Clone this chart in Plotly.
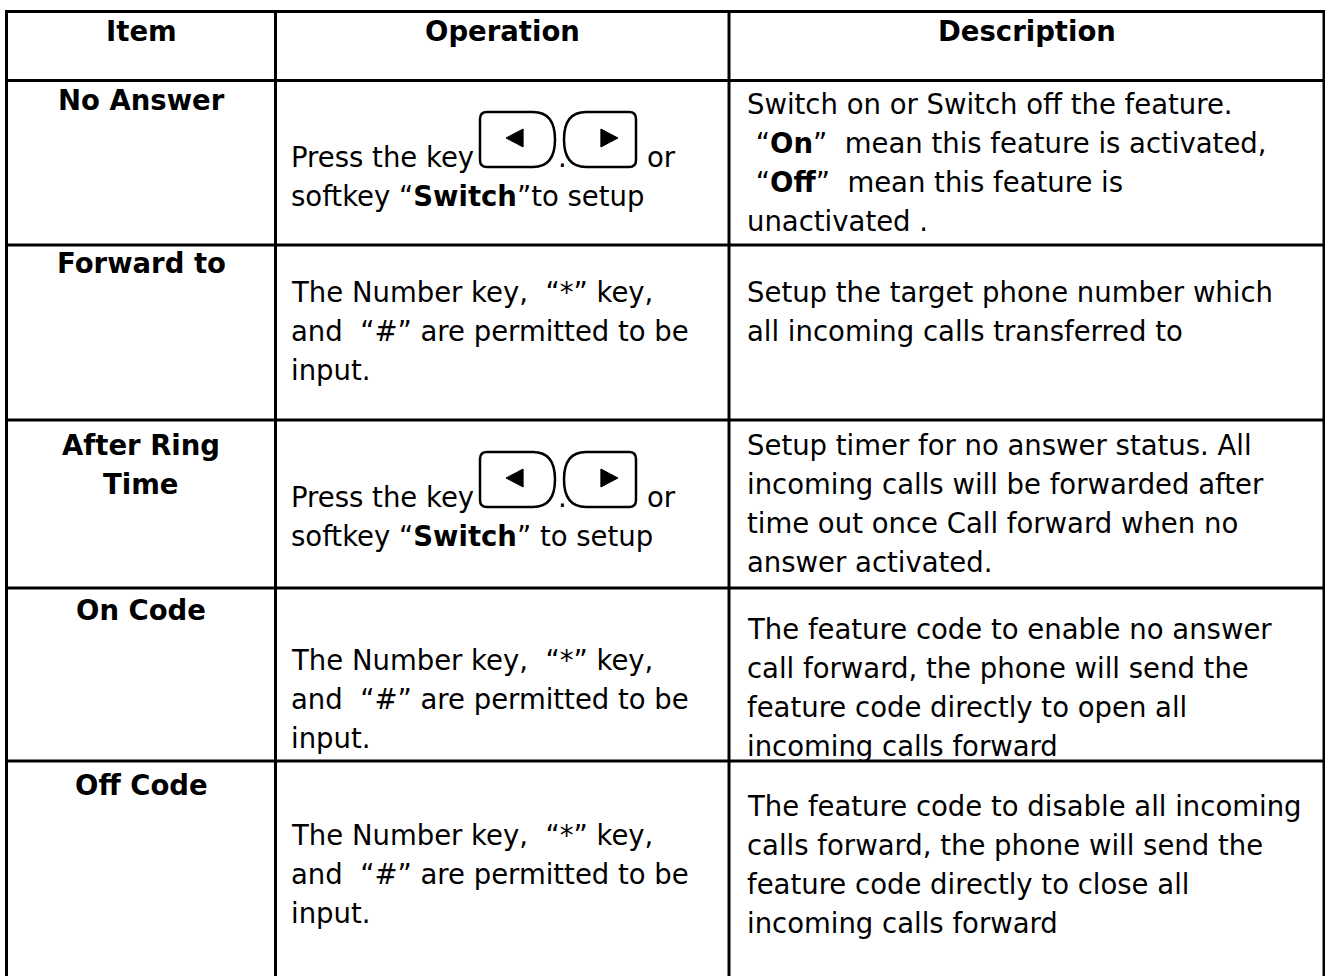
import plotly.graph_objects as go

# ---- data ----
headers = ["Item", "Operation", "Description"]

items = [
    ["No Answer"],
    ["Forward to"],
    ["After Ring", "Time"],
    ["On Code"],
    ["Off Code"],
]

operations = [
    ["Press the key", "softkey “<b>Switch</b>”to setup"],
    ["The Number key,  “*” key,", "and  “#” are permitted to be", "input."],
    ["Press the key", "softkey “<b>Switch</b>” to setup"],
    ["The Number key,  “*” key,", "and  “#” are permitted to be", "input."],
    ["The Number key,  “*” key,", "and  “#” are permitted to be", "input."],
]

descriptions = [
    ["Switch on or Switch off the feature.",
     " “<b>On</b>”  mean this feature is activated,",
     " “<b>Off</b>”  mean this feature is",
     "unactivated ."],
    ["Setup the target phone number which",
     "all incoming calls transferred to"],
    ["Setup timer for no answer status. All",
     "incoming calls will be forwarded after",
     "time out once Call forward when no",
     "answer activated."],
    ["The feature code to enable no answer",
     "call forward, the phone will send the",
     "feature code directly to open all",
     "incoming calls forward"],
    ["The feature code to disable all incoming",
     "calls forward, the phone will send the",
     "feature code directly to close all",
     "incoming calls forward"],
]

has_keys = [True, False, True, False, False]

# ---- layout constants ----
W, H = 1325, 976
FONT = "Verdana, DejaVu Sans, sans-serif"
FS = 27.5
LH = 39
col_x = [6.5, 275.5, 729, 1324]
row_y = [11.5, 80.5, 245, 420, 588, 761]
header_y = 31
item_y0 = [100, 263, 445, 610, 785]
op_y0 = [157, 292, 497, 660, 835]
desc_y0 = [104, 292, 445, 629, 806]
op_x = 289
desc_x = 745

fig = go.Figure()
shapes = []
annotations = []

def ann(x, y, text, anchor="left", bold=False):
    annotations.append(dict(
        x=x, y=y, xref="x", yref="y", text=("<b>%s</b>" % text) if bold else text,
        showarrow=False, xanchor=anchor, yanchor="middle",
        font=dict(family=FONT, size=FS, color="#000000"), align=anchor))

# grid lines
for x in col_x:
    shapes.append(dict(type="line", x0=x, x1=x, y0=row_y[0], y1=H + 5,
                       xref="x", yref="y", line=dict(color="black", width=3)))
for y in row_y:
    shapes.append(dict(type="line", x0=col_x[0] - 1.5, x1=col_x[-1] + 1.5, y0=y, y1=y,
                       xref="x", yref="y", line=dict(color="black", width=3)))

# headers
for i, h in enumerate(headers):
    ann((col_x[i] + col_x[i + 1]) / 2, header_y, h, anchor="center", bold=True)

def key_left(x0, y0, x1, y1):
    r = 7; a = 22; h = y1 - y0; ym = (y0 + y1) / 2
    return (f"M {x0+r},{y0} L {x1-a},{y0} "
            f"C {x1-a*0.25},{y0} {x1},{y0+h*0.22} {x1},{ym} "
            f"C {x1},{y1-h*0.22} {x1-a*0.25},{y1} {x1-a},{y1} "
            f"L {x0+r},{y1} Q {x0},{y1} {x0},{y1-r} L {x0},{y0+r} Q {x0},{y0} {x0+r},{y0} Z")

def key_right(x0, y0, x1, y1):
    r = 7; a = 22; h = y1 - y0; ym = (y0 + y1) / 2
    return (f"M {x0+a},{y0} L {x1-r},{y0} Q {x1},{y0} {x1},{y0+r} L {x1},{y1-r} "
            f"Q {x1},{y1} {x1-r},{y1} L {x0+a},{y1} "
            f"C {x0+a*0.25},{y1} {x0},{y1-h*0.22} {x0},{ym} "
            f"C {x0},{y0+h*0.22} {x0+a*0.25},{y0} {x0+a},{y0} Z")

def tri(cx, cy, direction):
    s = 9
    if direction < 0:
        return f"M {cx-s},{cy} L {cx+s*0.9},{cy-s} L {cx+s*0.9},{cy+s} Z"
    return f"M {cx+s},{cy} L {cx-s*0.9},{cy-s} L {cx-s*0.9},{cy+s} Z"

for r in range(5):
    cx = (col_x[0] + col_x[1]) / 2
    for k, line in enumerate(items[r]):
        ann(cx, item_y0[r] + k * LH, line, anchor="center", bold=True)
    for k, line in enumerate(operations[r]):
        ann(op_x, op_y0[r] + k * LH, line)
    for k, line in enumerate(descriptions[r]):
        ann(desc_x, desc_y0[r] + k * LH, line)
    if has_keys[r]:
        base = op_y0[r]
        top, bot = base - 45, base + 10
        shapes.append(dict(type="path", path=key_left(480, top, 555, bot), xref="x", yref="y",
                           line=dict(color="black", width=2.5), fillcolor="rgba(0,0,0,0)"))
        shapes.append(dict(type="path", path=key_right(564, top, 636, bot), xref="x", yref="y",
                           line=dict(color="black", width=2.5), fillcolor="rgba(0,0,0,0)"))
        shapes.append(dict(type="path", path=tri(515, base - 19, -1), xref="x", yref="y",
                           line=dict(color="black", width=1), fillcolor="black"))
        shapes.append(dict(type="path", path=tri(609, base - 19, 1), xref="x", yref="y",
                           line=dict(color="black", width=1), fillcolor="black"))
        ann(556, base, ".")
        ann(645, base, "or")

fig.update_layout(
    width=W, height=H, autosize=False,
    margin=dict(l=0, r=0, t=0, b=0, pad=0),
    paper_bgcolor="white", plot_bgcolor="white",
    xaxis=dict(range=[0, W], visible=False, fixedrange=True),
    yaxis=dict(range=[H, 0], visible=False, fixedrange=True),
    shapes=shapes, annotations=annotations, showlegend=False,
)

fig.write_html("out.html", config={"displayModeBar": False},
               post_script="document.body.style.margin='0';")
